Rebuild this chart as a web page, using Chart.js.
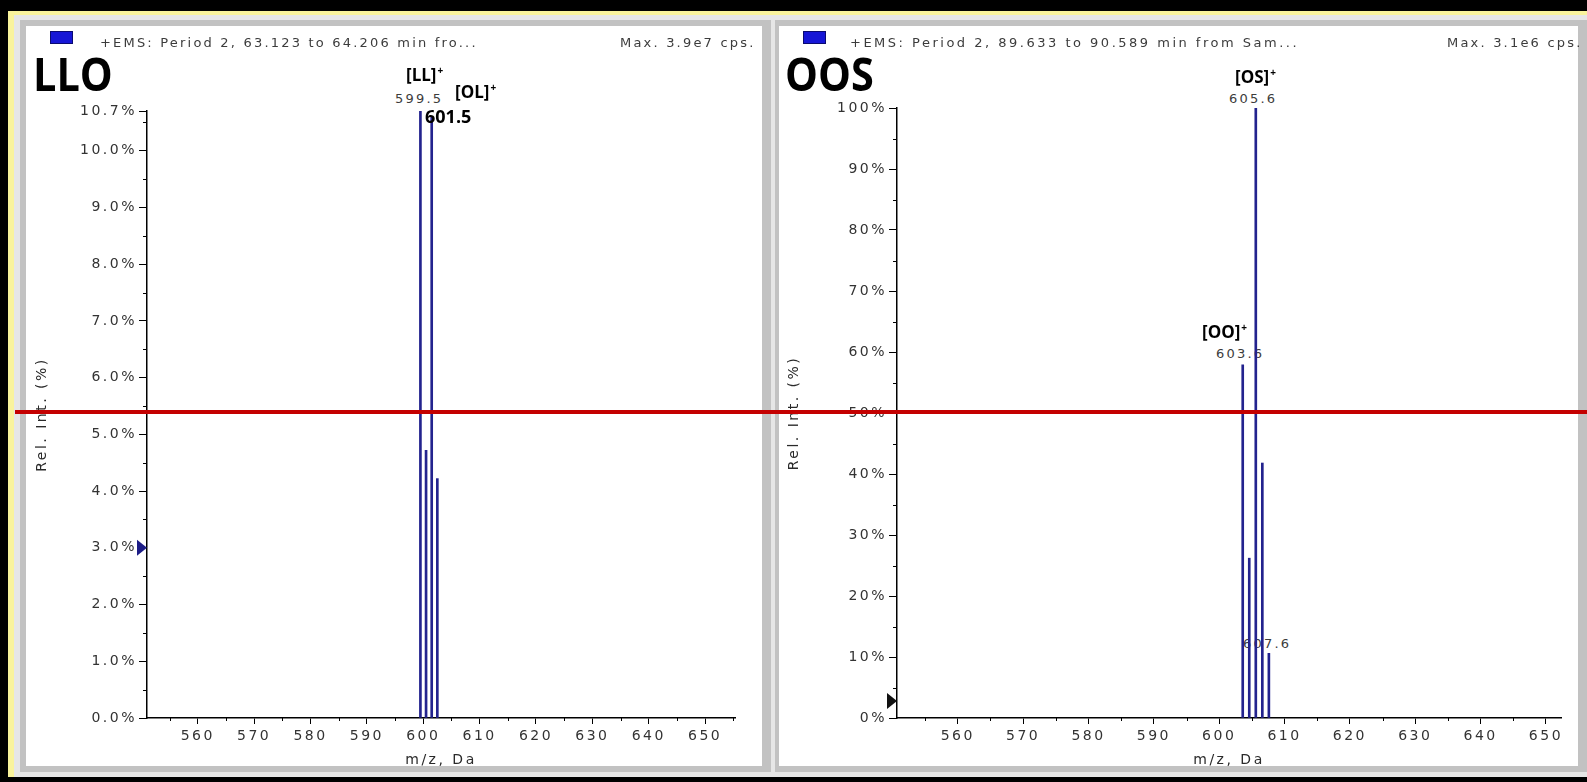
<!DOCTYPE html>
<html>
<head>
<meta charset="utf-8">
<script src="https://cdn.jsdelivr.net/npm/chart.js@4.4.1/dist/chart.umd.min.js"></script>
<style>
body { margin:0; background:#000; width:1587px; height:782px; overflow:hidden; position:relative; }
.abs { position:absolute; }
.small { font-family:"DejaVu Sans", sans-serif; font-size:13px; line-height:1; color:#3c3c3c; letter-spacing:2.2px; white-space:nowrap; }
.bold { font-family:"Open Sans", sans-serif; font-weight:700; font-size:17px; line-height:1; color:#000; white-space:nowrap; }
.bold sup { font-size:10px; vertical-align:7px; margin-left:1px; }
.big { font-family:"Open Sans", sans-serif; font-weight:700; font-size:46px; line-height:1; color:#000; transform:scaleX(0.9); transform-origin:0 0; }
.sq { width:21px; height:11px; background:#1616d6; border:1px solid #0a0a70; }
canvas { position:absolute; }
</style>
</head>
<body>
<div class="abs" style="left:8px;top:11px;width:1590px;height:766px;background:#f9f39c;"></div>
<div class="abs" style="left:14px;top:15px;width:1580px;height:762px;background:#e6e6e6;"></div>
<div class="abs" style="left:20px;top:20px;width:751px;height:752px;background:#c2c2c2;"></div>
<div class="abs" style="left:26px;top:26px;width:736px;height:740px;background:#fff;"></div>
<div class="abs" style="left:775px;top:20px;width:812px;height:752px;background:#c2c2c2;"></div>
<div class="abs" style="left:779px;top:26px;width:799px;height:740px;background:#fff;"></div>

<!-- numbers that sit behind the peaks -->
<div class="abs small" style="left:395px;top:92px;">599.5</div>
<div class="abs small" style="left:1229px;top:92px;">605.6</div>
<div class="abs small" style="left:1216px;top:347px;">603.6</div>
<div class="abs small" style="left:1243px;top:637px;">607.6</div>

<canvas id="llo" width="736" height="746" style="left:26px;top:26px;"></canvas>
<canvas id="oos" width="799" height="746" style="left:779px;top:26px;"></canvas>

<div class="abs sq" style="left:50px;top:31px;"></div>
<div class="abs small" style="left:100px;top:36px;">+EMS: Period 2, 63.123 to 64.206 min fro...</div>
<div class="abs small" style="left:620px;top:36px;">Max. 3.9e7 cps.</div>
<div class="abs sq" style="left:803px;top:31px;"></div>
<div class="abs small" style="left:850px;top:36px;letter-spacing:2.5px;">+EMS: Period 2, 89.633 to 90.589 min from Sam...</div>
<div class="abs small" style="left:1447px;top:36px;">Max. 3.1e6 cps.</div>

<div class="abs big" style="left:33px;top:50px;">LLO</div>
<div class="abs big" style="left:785px;top:50px;">OOS</div>

<div class="abs bold" style="left:406px;top:65px;">[LL]<sup>+</sup></div>
<div class="abs bold" style="left:455px;top:82px;">[OL]<sup>+</sup></div>
<div class="abs bold" style="left:425px;top:107px;font-size:18px;">601.5</div>
<div class="abs bold" style="left:1235px;top:67px;">[OS]<sup>+</sup></div>
<div class="abs bold" style="left:1202px;top:322px;">[OO]<sup>+</sup></div>

<div class="abs" style="left:15px;top:410px;width:1572px;height:4px;background:#c40000;"></div>

<script>
// LLO spectrum (zoomed to 10.7 %)
const lloMz = [599.5, 600.5, 601.5, 602.5];
const lloInt = [10.7, 4.72, 10.6, 4.22];
// OOS spectrum
const oosMz = [603.6, 604.6, 605.6, 606.6, 607.6];
const oosInt = [57.9, 26.2, 100, 41.8, 10.6];

// axes
const mzMajor = [560, 570, 580, 590, 600, 610, 620, 630, 640, 650];
const lloMzMinor = [555, 565, 575, 585, 595, 605, 615, 625, 635, 645, 655];
const oosMzMinor = [555, 565, 575, 585, 595, 605, 615, 625, 635, 645];
const lloMzRange = [551, 655.3];
const oosMzRange = [550.7, 652.3];
const lloYMajor = [0, 1, 2, 3, 4, 5, 6, 7, 8, 9, 10, 10.7];
const lloYMinor = [0.5, 1.5, 2.5, 3.5, 4.5, 5.5, 6.5, 7.5, 8.5, 9.5, 10.5];
const oosYMajor = [0, 10, 20, 30, 40, 50, 60, 70, 80, 90, 100];
const oosYMinor = [5, 15, 25, 35, 45, 55, 65, 75, 85, 95];
const lloThreshold = 3.0;
const oosThreshold = 2.8;

const tickFont = {family: 'DejaVu Sans', size: 14};
const titleFont = {family: 'DejaVu Sans', size: 14};

// wide letter spacing like the instrument software screenshot
const spacing = {
    id: 'spacing',
    beforeUpdate(chart) { chart.ctx.letterSpacing = '2.5px'; },
    beforeDraw(chart) { chart.ctx.letterSpacing = '2.5px'; }
};

// short minor ticks + the threshold triangle on the y axis
const extras = {
    id: 'extras',
    afterDraw(chart, args, opts) {
        const ctx = chart.ctx;
        const x = chart.scales.x, y = chart.scales.y;
        ctx.save();
        ctx.strokeStyle = '#000';
        ctx.lineWidth = 1;
        opts.xMinor.forEach(v => {
            const px = Math.round(x.getPixelForValue(v)) + 0.5;
            ctx.beginPath(); ctx.moveTo(px, x.top); ctx.lineTo(px, x.top + 3); ctx.stroke();
        });
        opts.yMinor.forEach(v => {
            const py = Math.round(y.getPixelForValue(v)) + 0.5;
            ctx.beginPath(); ctx.moveTo(y.right, py); ctx.lineTo(y.right - 4, py); ctx.stroke();
        });
        const my = y.getPixelForValue(opts.marker);
        ctx.fillStyle = opts.markerColor;
        ctx.beginPath();
        ctx.moveTo(y.right - 10, my - 8);
        ctx.lineTo(y.right, my);
        ctx.lineTo(y.right - 10, my + 8);
        ctx.closePath();
        ctx.fill();
        ctx.restore();
    }
};

function makeSpectrum(id, mz, intensity, cfg) {
    return new Chart(document.getElementById(id), {
        type: 'bar',
        data: {
            datasets: [{
                data: mz.map((m, i) => ({x: m, y: intensity[i]})),
                backgroundColor: '#23238e',
                borderWidth: 0,
                barThickness: 2,
            }],
        },
        options: {
            responsive: false,
            animation: false,
            devicePixelRatio: 1,
            layout: {padding: {left: 0, right: cfg.padRight, top: cfg.padTop, bottom: 0}},
            plugins: {
                legend: {display: false},
                tooltip: {enabled: false},
                extras: {xMinor: cfg.xMinor, yMinor: cfg.yMinor, marker: cfg.marker, markerColor: cfg.markerColor},
            },
            scales: {
                x: {
                    type: 'linear',
                    min: cfg.xRange[0],
                    max: cfg.xRange[1],
                    offset: false,
                    grid: {drawOnChartArea: false, drawTicks: true, tickLength: 6, color: '#000', offset: false},
                    border: {color: '#000', width: 1.5},
                    ticks: {autoSkip: false, maxRotation: 0, padding: 4, color: '#333', font: tickFont,
                        callback: v => String(v)},
                    afterBuildTicks: s => { s.ticks = mzMajor.map(v => ({value: v})); },
                    afterFit: s => { s.height = 54; },
                    title: {display: true, text: 'm/z, Da', color: '#2a2a2a', font: titleFont, padding: {top: 0, bottom: 3}},
                },
                y: {
                    min: 0,
                    max: cfg.yMax,
                    grid: {drawOnChartArea: false, drawTicks: true, tickLength: 8, color: '#000'},
                    border: {color: '#000', width: 1.5},
                    ticks: {autoSkip: false, padding: 2, color: '#333', font: tickFont, callback: cfg.yFormat},
                    afterBuildTicks: s => { s.ticks = cfg.yMajor.map(v => ({value: v})); },
                    afterFit: s => { s.width = cfg.yWidth; },
                    title: {display: true, text: 'Rel. Int. (%)', color: '#2a2a2a', font: titleFont, padding: {top: cfg.yTitlePad, bottom: 0}},
                },
            },
        },
        plugins: [spacing, extras],
    });
}

makeSpectrum('llo', lloMz, lloInt, {
    xRange: lloMzRange, xMinor: lloMzMinor,
    yMax: 10.7, yMajor: lloYMajor, yMinor: lloYMinor,
    yFormat: v => v.toFixed(1) + '%',
    yWidth: 121, yTitlePad: 8, padRight: 27, padTop: 85,
    marker: lloThreshold, markerColor: '#1c1c86',
});

makeSpectrum('oos', oosMz, oosInt, {
    xRange: oosMzRange, xMinor: oosMzMinor,
    yMax: 100, yMajor: oosYMajor, yMinor: oosYMinor,
    yFormat: v => v + '%',
    yWidth: 118, yTitlePad: 7, padRight: 17, padTop: 82,
    marker: oosThreshold, markerColor: '#111',
});
</script>
</body>
</html>
